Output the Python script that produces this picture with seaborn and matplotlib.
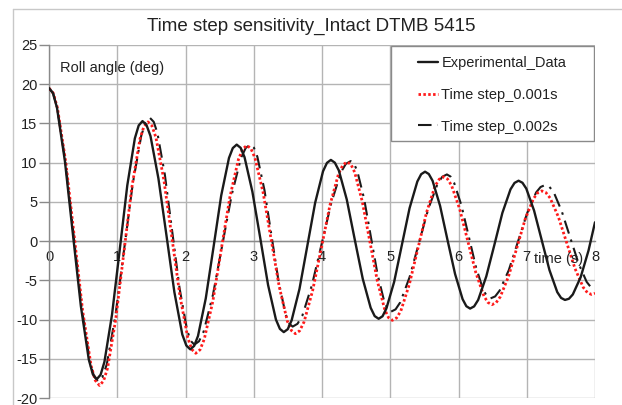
import matplotlib
matplotlib.use("Agg")
import matplotlib.pyplot as plt
import seaborn as sns
import pandas as pd
from matplotlib.patches import Rectangle
from matplotlib.lines import Line2D

# ---------------- data ----------------
t_exp = [0.0, 0.058, 0.117, 0.233, 0.35, 0.467, 0.583, 0.642,
         0.70, 0.756, 0.812, 0.923, 1.035, 1.147, 1.258, 1.314,
         1.37, 1.428, 1.487, 1.603, 1.72, 1.837, 1.953, 2.012,
         2.07, 2.127, 2.183, 2.297, 2.41, 2.523, 2.637, 2.693,
         2.75, 2.808, 2.865, 2.98, 3.095, 3.21, 3.325, 3.383,
         3.44, 3.498, 3.555, 3.67, 3.785, 3.90, 4.015, 4.073,
         4.13, 4.188, 4.247, 4.363, 4.48, 4.597, 4.713, 4.772,
         4.83, 4.887, 4.943, 5.057, 5.17, 5.283, 5.397, 5.453,
         5.51, 5.565, 5.62, 5.73, 5.84, 5.95, 6.06, 6.115,
         6.17, 6.229, 6.288, 6.407, 6.525, 6.643, 6.762, 6.821,
         6.88, 6.937, 6.993, 7.107, 7.22, 7.333, 7.447, 7.503,
         7.56, 7.618, 7.675, 7.79, 7.905, 8.0]
y_exp = [19.5, 18.87, 17.0, 10.2, 0.9, -8.3, -15.1, -16.97,
         -17.6, -17.04, -15.4, -9.4, -1.2, 7.1, 13.1, 14.74,
         15.3, 14.81, 13.4, 8.0, 0.8, -6.5, -11.9, -13.31,
         -13.8, -13.36, -12.1, -7.3, -0.8, 5.8, 10.6, 11.86,
         12.3, 11.89, 10.7, 6.3, 0.4, -5.6, -10.0, -11.19,
         -11.6, -11.23, -10.1, -6.1, -0.6, 4.9, 8.9, 9.98,
         10.35, 10.0, 9.0, 5.3, 0.2, -4.8, -8.5, -9.56,
         -9.9, -9.58, -8.6, -5.2, -0.5, 4.2, 7.6, 8.53,
         8.85, 8.55, 7.7, 4.5, 0.1, -4.2, -7.4, -8.3,
         -8.6, -8.32, -7.5, -4.5, -0.5, 3.6, 6.6, 7.42,
         7.7, 7.44, 6.7, 3.9, 0.1, -3.7, -6.5, -7.24,
         -7.5, -7.35, -6.8, -4.6, -1.2, 2.4]

t_001 = [0.0, 0.062, 0.123, 0.247, 0.37, 0.493, 0.617, 0.678,
         0.74, 0.799, 0.858, 0.977, 1.095, 1.213, 1.332, 1.391,
         1.45, 1.508, 1.567, 1.683, 1.80, 1.917, 2.033, 2.092,
         2.15, 2.213, 2.275, 2.40, 2.525, 2.65, 2.775, 2.838,
         2.90, 2.959, 3.018, 3.137, 3.255, 3.373, 3.492, 3.551,
         3.61, 3.673, 3.737, 3.863, 3.99, 4.117, 4.243, 4.307,
         4.37, 4.425, 4.48, 4.59, 4.70, 4.81, 4.92, 4.975,
         5.03, 5.093, 5.155, 5.28, 5.405, 5.53, 5.655, 5.718,
         5.78, 5.839, 5.898, 6.017, 6.135, 6.253, 6.372, 6.431,
         6.49, 6.551, 6.612, 6.733, 6.855, 6.977, 7.098, 7.159,
         7.22, 7.281, 7.342, 7.463, 7.585, 7.707, 7.828, 7.889,
         7.95, 8.0]
y_001 = [19.5, 18.86, 17.0, 10.0, 0.6, -8.9, -15.9, -17.76,
         -18.4, -17.83, -16.2, -10.0, -1.6, 6.8, 13.0, 14.63,
         15.2, 14.7, 13.2, 7.8, 0.5, -6.9, -12.3, -13.8,
         -14.3, -13.85, -12.5, -7.7, -1.0, 5.6, 10.4, 11.75,
         12.2, 11.79, 10.6, 6.2, 0.2, -5.8, -10.2, -11.39,
         -11.8, -11.43, -10.3, -6.3, -0.9, 4.6, 8.6, 9.73,
         10.1, 9.76, 8.75, 5.05, 0.0, -5.05, -8.75, -9.76,
         -10.1, -9.79, -8.9, -5.5, -0.95, 3.6, 7.0, 7.89,
         8.2, 7.92, 7.1, 4.1, 0.05, -4.0, -7.0, -7.82,
         -8.1, -7.85, -7.1, -4.5, -0.85, 2.8, 5.4, 6.15,
         6.4, 6.18, 5.5, 3.1, -0.2, -3.5, -5.9, -6.58,
         -6.8, -6.65]

t_002 = [0.0, 0.06, 0.12, 0.24, 0.36, 0.48, 0.60, 0.66,
         0.72, 0.783, 0.847, 0.973, 1.10, 1.227, 1.353, 1.417,
         1.48, 1.534, 1.588, 1.697, 1.805, 1.913, 2.022, 2.076,
         2.13, 2.198, 2.267, 2.403, 2.54, 2.677, 2.813, 2.882,
         2.95, 3.002, 3.053, 3.157, 3.26, 3.363, 3.467, 3.518,
         3.57, 3.641, 3.712, 3.853, 3.995, 4.137, 4.278, 4.349,
         4.42, 4.469, 4.518, 4.617, 4.715, 4.813, 4.912, 4.961,
         5.01, 5.078, 5.147, 5.283, 5.42, 5.557, 5.693, 5.762,
         5.83, 5.883, 5.937, 6.043, 6.15, 6.257, 6.363, 6.417,
         6.47, 6.537, 6.603, 6.737, 6.87, 7.003, 7.137, 7.203,
         7.27, 7.331, 7.392, 7.513, 7.635, 7.757, 7.878, 7.939,
         8.0]
y_002 = [19.5, 18.86, 17.0, 10.2, 0.8, -8.6, -15.4, -17.26,
         -17.9, -17.33, -15.7, -9.5, -1.1, 7.3, 13.5, 15.13,
         15.7, 15.21, 13.8, 8.5, 1.25, -6.0, -11.3, -12.71,
         -13.2, -12.77, -11.5, -6.8, -0.45, 5.9, 10.6, 11.87,
         12.3, 11.91, 10.75, 6.5, 0.7, -5.1, -9.35, -10.51,
         -10.9, -10.54, -9.5, -5.6, -0.35, 4.9, 8.8, 9.84,
         10.2, 9.87, 8.9, 5.4, 0.6, -4.2, -7.7, -8.67,
         -9.0, -8.7, -7.8, -4.6, -0.25, 4.1, 7.3, 8.2,
         8.5, 8.23, 7.4, 4.55, 0.6, -3.35, -6.25, -7.03,
         -7.3, -7.05, -6.3, -3.7, -0.1, 3.5, 6.2, 6.9,
         7.15, 6.92, 6.3, 3.8, 0.5, -2.8, -5.2, -5.87,
         -6.1]

series_names = ["Experimental_Data", "Time step_0.001s", "Time step_0.002s"]
x_ticks = [0, 1, 2, 3, 4, 5, 6, 7, 8]
y_ticks = [-20, -15, -10, -5, 0, 5, 10, 15, 20, 25]
title = "Time step sensitivity_Intact DTMB 5415"
y_label = "Roll angle (deg)"
x_label = "time (s)"

# ---------------- style ----------------
sns.set_theme(style="white")
plt.rcParams["font.family"] = ["Liberation Sans", "DejaVu Sans"]
FS = 10.5
GRID = "#b4b4b4"
AXC = "#8a8a8a"
TXT = "#222222"

W, H = 622, 405
fig = plt.figure(figsize=(W / 100, H / 100), dpi=100)
fig.patch.set_facecolor("white")

# outer chart frame (light gray)
fig.add_artist(Line2D([13 / W, 1.0], [1 - 9 / H, 1 - 9 / H], transform=fig.transFigure,
                      color="#c8c8c8", lw=1.0))
fig.add_artist(Line2D([13 / W, 13 / W], [0, 1 - 9 / H], transform=fig.transFigure,
                      color="#c8c8c8", lw=1.0))

L, R, T, B = 49, 595, 45, 398
ax = fig.add_axes([L / W, 1 - B / H, (R - L) / W, (B - T) / H])
ax.set_facecolor("white")

df_exp = pd.DataFrame({"t": t_exp, "y": y_exp})
df_001 = pd.DataFrame({"t": t_001, "y": y_001})
df_002 = pd.DataFrame({"t": t_002, "y": y_002})

sns.lineplot(data=df_exp, x="t", y="y", ax=ax, color="#1a1a1a", lw=1.7,
             label=series_names[0], zorder=5)
sns.lineplot(data=df_001, x="t", y="y", ax=ax, color="#ff1a1a", lw=2.0,
             label=series_names[1], zorder=4)
sns.lineplot(data=df_002, x="t", y="y", ax=ax, color="#1a1a1a", lw=1.5,
             label=series_names[2], zorder=3)
lines = ax.get_lines()
lines[1].set_dashes([0.9, 0.85])
lines[1].set_dash_capstyle("butt")
lines[2].set_dashes([6.5, 3, 1.2, 3])
for ln in lines:
    ln.set_solid_joinstyle("round")
    ln.set_dash_joinstyle("round")

ax.set_xlim(0, 8)
ax.set_ylim(-20, 25)
ax.set_xlabel("")
ax.set_ylabel("")

# grid
ax.set_xticks(x_ticks)
ax.set_yticks(y_ticks)
ax.grid(True, color=GRID, lw=1.0, zorder=0)
ax.set_axisbelow(True)

for s in ["top", "right"]:
    ax.spines[s].set_visible(False)
ax.spines["left"].set_color(AXC)
ax.spines["left"].set_linewidth(1.0)
ax.spines["bottom"].set_position(("data", 0))
ax.spines["bottom"].set_color(AXC)
ax.spines["bottom"].set_linewidth(1.0)

ax.tick_params(axis="y", which="both", left=True, length=7, width=1.0, color=AXC,
               pad=1.5, labelsize=FS, labelcolor=TXT)
ax.tick_params(axis="x", which="both", bottom=False, length=0, pad=6.5,
               labelsize=FS, labelcolor=TXT)
ax.set_xticklabels([str(v) for v in x_ticks])
ax.set_yticklabels([str(v) for v in y_ticks])

# texts
fig.text(311 / W, 1 - 26 / H, title, ha="center", va="center", fontsize=13.5, color=TXT)
ax.text((60 - L) / (R - L), 1 - (68 - T) / (B - T), y_label, transform=ax.transAxes,
        ha="left", va="center", fontsize=FS, color=TXT)
ax.text((559 - L) / (R - L), 1 - (259 - T) / (B - T), x_label, transform=ax.transAxes,
        ha="center", va="center", fontsize=FS, color=TXT, zorder=10, clip_on=False)

# legend box + legend
box = Rectangle(((391 - L) / (R - L), 1 - (141 - T) / (B - T)), (594 - 391) / (R - L),
                (141 - 46) / (B - T), transform=ax.transAxes, facecolor="white",
                edgecolor=AXC, lw=1.0, zorder=7)
ax.add_patch(box)
leg = ax.legend(loc="upper left", bbox_to_anchor=((418 - L) / (R - L), 1 - (56.5 - T) / (B - T)),
                frameon=False, fontsize=FS, borderpad=0, borderaxespad=0,
                handlelength=1.4, handletextpad=0.2, labelspacing=1.2)
leg.set_zorder(8)
for txt in leg.get_texts():
    txt.set_color(TXT)

fig.savefig("out.png", dpi=100, facecolor="white")
